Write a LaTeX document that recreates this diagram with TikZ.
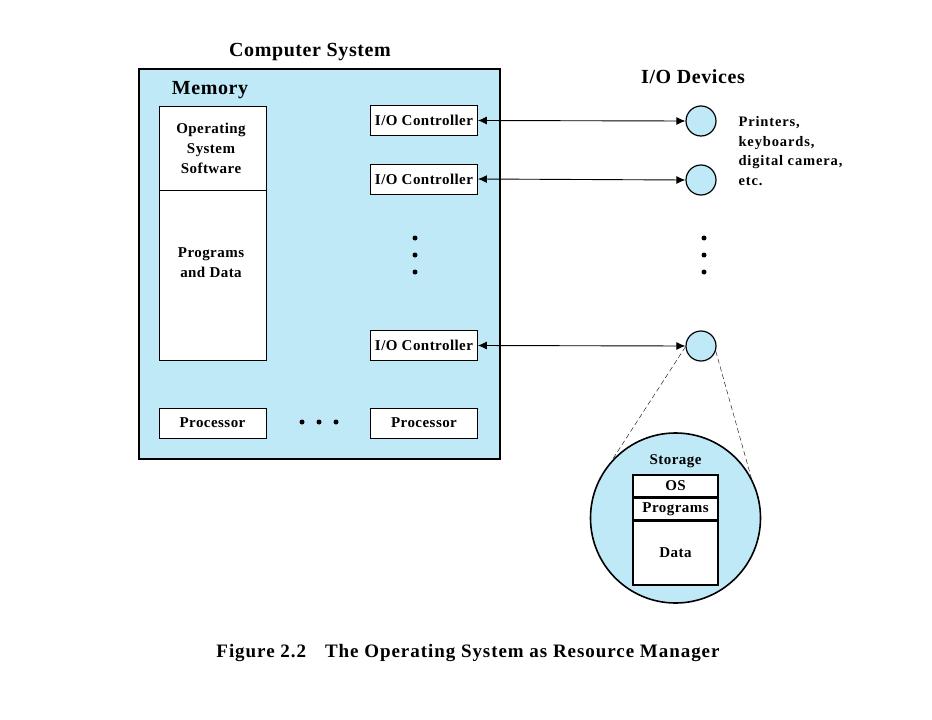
\documentclass[tikz,border=0pt]{standalone}
\usepackage{fontspec}
\setmainfont{Liberation Serif}[LetterSpace=3]
\usetikzlibrary{arrows.meta}
\definecolor{sysblue}{RGB}{192,233,248}
\tikzset{
  every node/.style={font=\bfseries},
  membox/.style={draw, fill=white, line width=0.8pt, minimum width=107pt, inner sep=0pt},
  ctlbox/.style={membox, minimum height=30pt, font=\bfseries\fontsize{15}{15}\selectfont},
  device/.style={circle, draw, fill=sysblue, line width=1.2pt, minimum size=30pt, inner sep=0pt},
  dot/.style={circle, fill=black, minimum size=5pt, inner sep=0pt},
  title/.style={font=\bfseries\fontsize{20}{20}\selectfont},
  small/.style={font=\bfseries\fontsize{15}{20}\selectfont, align=center},
  both/.style={line width=0.9pt, {Latex[length=9pt,width=8pt]}-{Latex[length=9pt,width=8pt]}}
}
\begin{document}
\begin{tikzpicture}[x=1pt,y=-1pt]
    \useasboundingbox (0,0) rectangle (932,720);
    % computer system
    \node[title] (systitle) at (310,52.5){Computer System};
    \node[draw, fill=sysblue, line width=1.6pt, minimum width=361pt, minimum height=390pt, anchor=north west] (sys) at (138,68){};
    \node[title] (memtitle) at (210,90){Memory};
    \node[membox, minimum height=84pt, anchor=north west] (osbox) at (159,106){};
    \node[small] (ostext) at (211,148){Operating\\System\\Software};
    \node[membox, minimum height=170pt, anchor=north west] (progbox) at (159,190){};
    \node[small] (progtext) at (211,263){Programs\\and Data};
    \node[ctlbox] (ctl1) at (424,120.5){I/O Controller};
    \node[ctlbox] (ctl2) at (424,179){I/O Controller};
    \node[ctlbox] (ctl3) at (424,345.5){I/O Controller};
    \node[ctlbox] (cpu1) at (212.5,423){Processor};
    \node[ctlbox] (cpu2) at (424,423){Processor};
    \node[dot] (cd1) at (415,238){};
    \node[dot] (cd2) at (415,255){};
    \node[dot] (cd3) at (415,272){};
    \node[dot] (pd1) at (302,422){};
    \node[dot] (pd2) at (319,422){};
    \node[dot] (pd3) at (336,422){};
    % i/o devices
    \node[title] (devtitle) at (693,77){I/O Devices};
    \node[device] (dev1) at (701,121){};
    \node[device] (dev2) at (701,180){};
    \node[device] (dev3) at (701,346){};
    \node[dot] (dd1) at (704,238){};
    \node[dot] (dd2) at (704,255){};
    \node[dot] (dd3) at (704,272){};
    \node[font=\bfseries\fontsize{14.5}{19.7}\selectfont\addfontfeature{LetterSpace=6}, align=left, anchor=north west] (devtext) at (735,113){Printers,\\keyboards,\\digital camera,\\etc.};
    \draw[both] (ctl1.east) -- (dev1.west);
    \draw[both] (ctl2.east) -- (dev2.west);
    \draw[both] (ctl3.east) -- (dev3.west);
    % storage
    \node[device, line width=1.6pt, minimum size=170pt] (disk) at (675.5,518){};
    \draw[dashed, dash pattern=on 5pt off 3pt] (dev3.183) -- (disk.138);
    \draw[dashed, dash pattern=on 5pt off 3pt] (dev3.-19) -- (disk.28);
    \node[small] (disktitle) at (675.5,461){Storage};
    \node[ctlbox, line width=1.6pt, minimum width=85pt, minimum height=22pt, anchor=north] (osrow) at (675.5,474){OS};
    \node[ctlbox, line width=1.6pt, minimum width=85pt, minimum height=21pt, anchor=north] (progrow) at (osrow.south){Programs};
    \node[ctlbox, line width=1.6pt, minimum width=85pt, minimum height=64pt, anchor=north] (datarow) at (progrow.south){Data};
    % caption
    \node[font=\bfseries\fontsize{19}{19}\selectfont\addfontfeature{LetterSpace=5}] (caption) at (468,652.5){Figure 2.2\quad The Operating System as Resource Manager};
\end{tikzpicture}
\end{document}
